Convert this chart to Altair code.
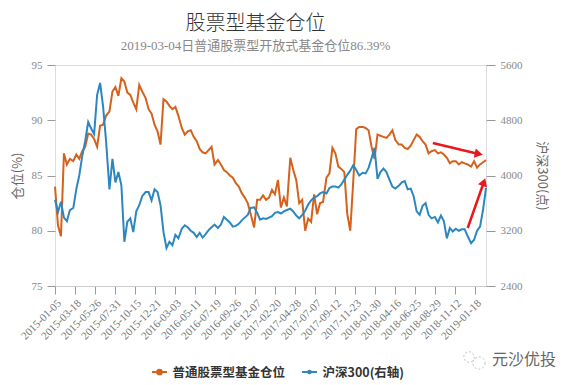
import altair as alt
import pandas as pd

# ---- data ----
tick_labels = ["2015-01-05", "2015-03-18", "2015-05-26", "2015-07-31", "2015-10-15",
               "2015-12-21", "2016-03-03", "2016-05-11", "2016-07-19", "2016-09-26",
               "2016-12-07", "2017-02-20", "2017-04-28", "2017-07-07", "2017-09-12",
               "2017-11-23", "2018-01-30", "2018-04-16", "2018-06-25", "2018-08-29",
               "2018-11-12", "2019-01-18"]
tick_step = 47          # trading days between labelled ticks
last_day = 1013         # trading-day index of 2019-03-04

fund_position = [
    84.0, 80.5, 79.5, 87.0, 86.0, 86.5, 86.3, 86.9, 86.5, 87.2,
    87.6, 88.8, 88.7, 88.3, 87.6, 89.5, 89.6, 90.4, 90.8, 92.6,
    93.0, 92.2, 93.8, 93.5, 92.5, 92.3, 91.6, 91.0, 93.2, 92.6,
    92.0, 91.0, 90.6, 89.6, 89.0, 87.8, 91.9, 91.7, 91.3, 91.0,
    91.2, 90.4, 89.3, 88.7, 89.0, 89.1, 88.5, 88.1, 87.4, 87.1,
    87.0, 87.3, 87.6, 86.0, 86.4, 86.0, 85.5, 85.3, 85.0, 84.8,
    84.3, 84.0, 83.4, 83.0, 82.5, 81.5, 80.3, 82.8, 82.8, 83.2,
    82.8, 83.0, 83.7, 83.3, 84.6, 82.1, 83.0, 82.2, 86.6, 85.5,
    84.6, 82.5, 82.8, 80.0, 81.1, 80.8, 83.3, 81.5, 82.5, 82.6,
    84.8, 85.2, 87.5, 87.0, 85.8, 85.6, 85.3, 81.5, 80.0, 84.5,
    89.2, 89.4, 89.4, 89.3, 89.1, 87.6, 86.5, 88.7, 88.6, 88.5,
    88.4, 88.7, 89.1, 88.2, 87.8, 87.8, 87.5, 87.4, 87.7, 88.2,
    88.7, 88.5, 88.1, 87.8, 87.0, 87.2, 87.3, 87.0, 87.1, 86.9,
    86.6, 86.1, 86.3, 86.3, 86.0, 86.2, 86.1, 86.0, 85.8, 86.3,
    85.7, 86.0, 86.2, 86.39]

hs300 = [
    3650, 3470, 3620, 3390, 3340, 3500, 3530, 3800, 4000, 4280,
    4500, 4775, 4680, 4600, 5166, 5340, 5000, 4500, 3800, 4240,
    3900, 4050, 3860, 3040, 3330, 3380, 3180, 3480, 3570, 3700,
    3760, 3760, 3640, 3800, 3760, 3570, 3180, 2950, 3040, 2990,
    3140, 3090, 3230, 3280, 3250, 3200, 3170, 3110, 3170, 3100,
    3150, 3210, 3250, 3290, 3240, 3290, 3400, 3360, 3320, 3260,
    3270, 3300, 3350, 3390, 3430, 3530, 3540, 3460, 3360, 3380,
    3370, 3390, 3410, 3460, 3470, 3450, 3480, 3500, 3520, 3480,
    3420, 3380, 3430, 3490, 3580, 3640, 3680, 3700, 3740, 3760,
    3740, 3820, 3840, 3840, 3825, 3870, 3940, 4010, 4070, 4150,
    4080, 4000, 4040, 4030, 4110, 4250, 4400, 3950, 4050, 4100,
    4050, 3940, 3840, 3810, 3850, 3900, 3920, 3800, 3810, 3700,
    3480, 3430, 3560, 3600, 3430, 3380, 3400, 3320, 3420, 3340,
    3090, 3240, 3190, 3230, 3200, 3220, 3220, 3120, 3020, 3070,
    3200, 3260, 3500, 3820]

series_names = ["普通股票型基金仓位", "沪深300(右轴)"]
series_colors = ["#d4621c", "#2c87c0"]

# red annotation arrows (trading-day index, fund position %)
arrow_x = [888, 970]
arrow_y = [87.94, 80.25]
arrow_x2 = [996, 1008]
arrow_y2 = [86.95, 84.41]
arrow_angle = [102, 19]


def days(n):
    return [round(i * last_day / (n - 1)) for i in range(n)]


fund_df = pd.DataFrame({"day": days(len(fund_position)), "v": fund_position})
hs_df = pd.DataFrame({"day": days(len(hs300)), "v": hs300})
arrow_df = pd.DataFrame({"day": arrow_x, "v": arrow_y, "x2": arrow_x2,
                         "y2": arrow_y2, "ang": arrow_angle})

SERIF = "Liberation Serif, Times New Roman, serif"
SANS = "Noto Sans CJK SC"

label_expr = "[" + ",".join("'%s'" % t for t in tick_labels) + "][round(datum.value/%d)]" % tick_step
x_scale = alt.Scale(domain=[0, last_day], nice=False, zero=False)
x_axis = alt.Axis(values=[i * tick_step for i in range(len(tick_labels))],
                  labelExpr=label_expr, labelAngle=-45, labelOverlap=False,
                  labelFlush=False, labelColor="#777", tickSize=8,
                  labelFont=SERIF, labelFontSize=11,
                  domainColor="#ccc", title=None, labelPadding=3)
x_enc = alt.X("day:Q", scale=x_scale, axis=x_axis)

left_scale = alt.Scale(domain=[75, 95], nice=False, zero=False)
left_axis = alt.Axis(title="仓位(%)", values=[75, 80, 85, 90, 95], domain=False,
                     tickSize=8, labelPadding=5, titlePadding=7, labelFont=SERIF,
                     labelFontSize=11)
right_axis = alt.Axis(title="沪深300(点)", orient="right", format="d",
                      values=[2400, 3200, 4000, 4800, 5600], domain=False,
                      tickSize=9, labelPadding=5, titlePadding=12, labelFont=SERIF,
                      labelFontSize=11)
y_left = alt.Y("v:Q", scale=left_scale, axis=left_axis)

fund_line = alt.Chart(fund_df).mark_line(strokeWidth=2, color=series_colors[0]).encode(
    x=x_enc, y=y_left)

arrow_lines = alt.Chart(arrow_df).mark_rule(color="#e8191c", strokeWidth=2.5).encode(
    x=x_enc, y=y_left, x2="x2:Q", y2="y2:Q")
arrow_heads = alt.Chart(arrow_df).mark_point(shape="triangle-up", filled=True,
                                              color="#e8191c", size=90, opacity=1).encode(
    x=alt.X("x2:Q", scale=x_scale, axis=x_axis),
    y=alt.Y("y2:Q", scale=left_scale, axis=left_axis),
    angle=alt.Angle("ang:Q", scale=None))

# ---- hand-built legend (line + dot symbols) ----
one = pd.DataFrame({"k": [0]})


def legend_entry(name, color, x0, dot_size):
    line = alt.Chart(one).mark_rule(color=color, strokeWidth=2).encode(
        x=alt.value(x0), x2=alt.value(x0 + 15), y=alt.value(307))
    dot = alt.Chart(one).mark_point(shape="circle", filled=True, color=color,
                                     size=dot_size, opacity=1).encode(
        x=alt.value(x0 + 7.5), y=alt.value(307))
    txt = alt.Chart(one).mark_text(font=SANS, fontSize=12.5, fontWeight="bold",
                                    color="#333", align="left", baseline="middle").encode(
        x=alt.value(x0 + 20.5), y=alt.value(307.5), text=alt.value(name))
    return [line, dot, txt]


legend_layers = (legend_entry(series_names[0], series_colors[0], 97, 45)
                 + legend_entry(series_names[1], series_colors[1], 247, 22))

watermark = alt.Chart(one).mark_text(font=SANS, fontSize=16, color="#666",
                                     align="left", baseline="middle").encode(
    x=alt.value(437), y=alt.value(295), text=alt.value("元沙优投"))
icon1 = alt.Chart(one).mark_point(shape="circle", filled=False, color="#aaa",
                                   size=110, strokeDash=[2, 2], strokeWidth=1).encode(
    x=alt.value(414), y=alt.value(292))
icon2 = alt.Chart(one).mark_point(shape="circle", filled=False, color="#aaa",
                                   size=150, strokeDash=[2, 2], strokeWidth=1).encode(
    x=alt.value(424), y=alt.value(298))

left_group = alt.layer(fund_line, arrow_lines, arrow_heads, watermark, icon1, icon2,
                       *legend_layers)

hs_line = alt.Chart(hs_df).mark_line(strokeWidth=2, color=series_colors[1]).encode(
    x=x_enc,
    y=alt.Y("v:Q", scale=alt.Scale(domain=[2400, 5600], nice=False, zero=False),
            axis=right_axis),
)

chart = alt.layer(left_group, hs_line).resolve_scale(y="independent").properties(
    width=431, height=221,
    autosize=alt.AutoSizeParams(type="none"),
    padding={"left": 47, "top": 57, "right": 70, "bottom": 98},
    title=alt.Title("股票型基金仓位",
                    subtitle="2019-03-04日普通股票型开放式基金仓位86.39%",
                    font=SANS, fontSize=20, fontWeight=300, color="#333",
                    subtitleFont="Liberation Serif, Noto Sans CJK SC", subtitleFontSize=13,
                    subtitleColor="#888", anchor="middle", dx=-15, offset=6,
                    subtitlePadding=6),
).configure_view(stroke=None).configure(background="white").configure_axis(
    labelColor="#888", tickColor="#999",
    grid=False, titleFont=SANS, titleFontSize=13, titleColor="#666",
    titleFontWeight="normal",
)

chart.save("out.html", embed_options={"renderer": "svg", "actions": False})
